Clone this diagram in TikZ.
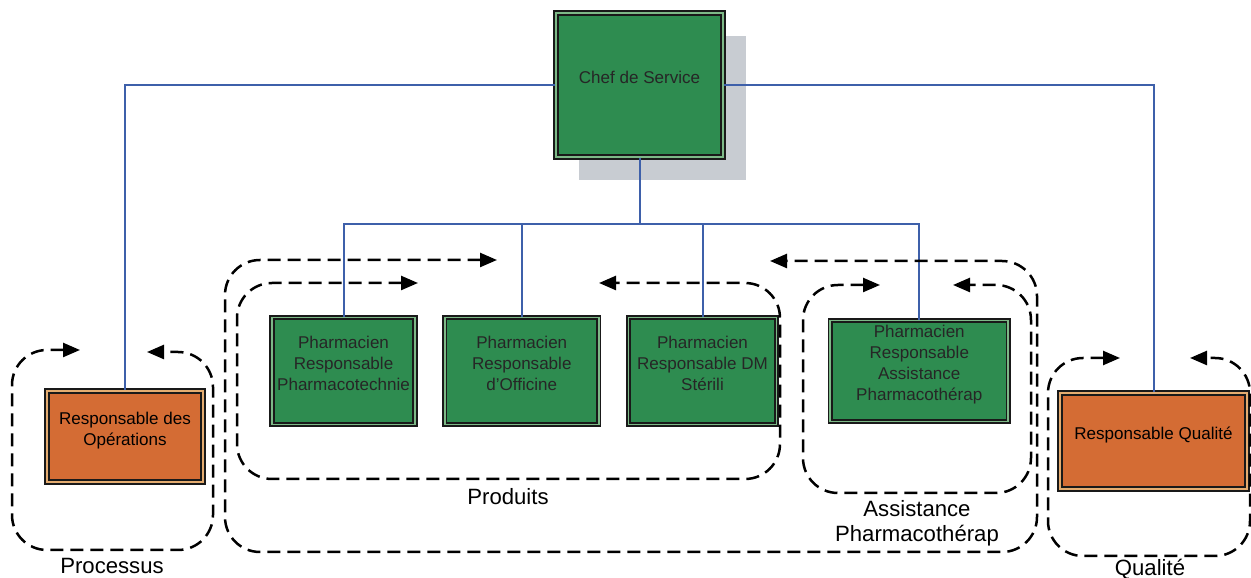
\documentclass[tikz,border=0pt]{standalone}
\usepackage{fontspec}
\setmainfont{Liberation Sans}
\usepackage{xcolor}
\usepackage{tikz}
\usetikzlibrary{arrows.meta,positioning,shadows}

\definecolor{boxgreen}{RGB}{46,140,80}
\definecolor{rimgreen}{RGB}{125,185,135}
\definecolor{boxorange}{RGB}{212,108,52}
\definecolor{rimorange}{RGB}{228,172,112}
\definecolor{shadowgray}{RGB}{200,204,210}
\definecolor{linkblue}{RGB}{62,96,170}

\begin{document}
\begin{tikzpicture}[
    box/.style={rectangle, draw=black!90, double=rimgreen, double distance=0.035cm, line width=0.035cm, fill=boxgreen, text=black!85, align=center, inner xsep=1pt, inner ysep=1pt, text depth=0.32cm, font=\fontsize{9.7}{12}\selectfont},
    greenbox/.style={box, minimum height=2.14cm},
    orangebox/.style={box, fill=boxorange, double=rimorange, text=black},
    loopline/.style={draw, line width=0.05cm, dash pattern=on 0.26cm off 0.14cm, rounded corners=0.7cm, {Triangle[length=0.34cm,width=0.28cm]}-{Triangle[length=0.34cm,width=0.28cm]}},
    grouplabel/.style={font=\fontsize{12.6}{14.4}\selectfont, align=center, inner sep=0pt},
    orgline/.style={draw=linkblue, line width=0.04cm}
]
\useasboundingbox (0,0) rectangle (25.02,-11.56);

% Top level - Chef
\node[box, minimum width=3.34cm, minimum height=2.88cm, drop shadow={shadow xshift=0.46cm, shadow yshift=-0.46cm, fill=shadowgray, opacity=1}] (chef) at (12.79,-1.70) {Chef de Service};

% Pharmaciens
\node[greenbox, minimum width=2.86cm] (tech) at (6.87,-7.42) {Pharmacien\\Responsable\\Pharmacotechnie};
\node[greenbox, minimum width=3.08cm, right=0.56cm of tech] (offi) {Pharmacien\\Responsable\\d'Officine};
\node[greenbox, minimum width=2.96cm, right=0.56cm of offi] (dm) {Pharmacien\\Responsable DM\\Stérili};
\node[greenbox, minimum width=3.56cm, minimum height=2.02cm, right=1.04cm of dm] (pharmaco) {Pharmacien\\Responsable\\Assistance\\Pharmacothérap};

% Responsables
\node[orangebox, minimum width=3.12cm, minimum height=1.82cm] (ops) at (2.50,-8.73) {Responsable des\\Opérations};
\node[orangebox, minimum width=3.74cm, minimum height=1.92cm] (qual) at (23.07,-8.82) {Responsable Qualité};

% Lines
\draw[orgline] (chef.west) -| (ops.north);
\draw[orgline] (chef.east) -| (qual.north);
\draw[orgline] (chef.south) -- ++(0,-1.32) -| (tech.north);
\draw[orgline] (chef.south) -- ++(0,-1.32) -| (offi.north);
\draw[orgline] (chef.south) -- ++(0,-1.32) -| (dm.north);
\draw[orgline] (chef.south) -- ++(0,-1.32) -| (pharmaco.north);

% Loops
\draw[loopline] (1.60,-7.00) -- (0.24,-7.00) -- (0.24,-11.00) -- (4.26,-11.00) -- (4.26,-7.04) -- (2.94,-7.04);
\draw[loopline] (8.36,-5.66) -- (4.74,-5.66) -- (4.74,-9.58) -- (15.60,-9.58) -- (15.60,-5.66) -- (11.98,-5.66);
\draw[loopline] (9.94,-5.20) -- (4.50,-5.20) -- (4.50,-11.04) -- (20.74,-11.04) -- (20.74,-5.22) -- (15.40,-5.22);
\draw[loopline] (17.60,-5.70) -- (16.06,-5.70) -- (16.06,-9.86) -- (20.62,-9.86) -- (20.62,-5.70) -- (19.06,-5.70);
\draw[loopline] (22.40,-7.16) -- (20.96,-7.16) -- (20.96,-11.12) -- (25.00,-11.12) -- (25.00,-7.16) -- (23.80,-7.16);

% Labels
\node[grouplabel] (processus) at (2.24,-11.32) {Processus};
\node[grouplabel] (produits) at (10.16,-9.94) {Produits};
\node[grouplabel] (assistance) at (18.34,-10.46) {Assistance\\Pharmacothérap};
\node[grouplabel] (qualite) at (23.00,-11.38) {Qualité};

\end{tikzpicture}
\end{document}
